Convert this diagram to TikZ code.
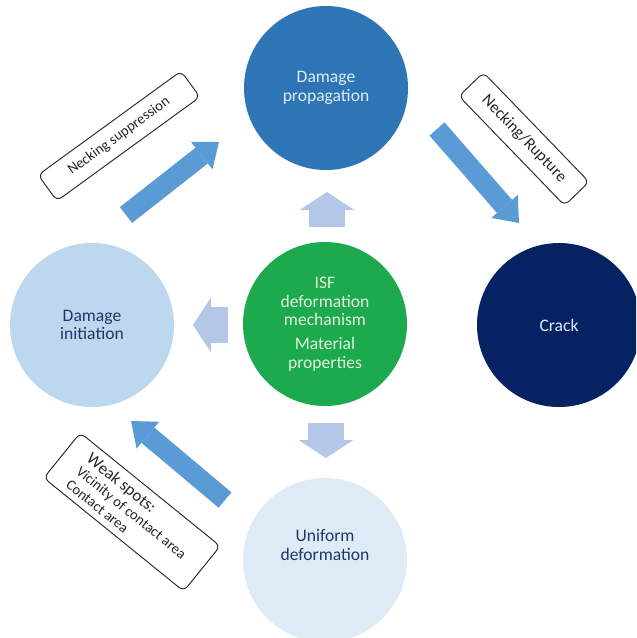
\documentclass[tikz,border=0pt]{standalone}
\usepackage{fontspec}
\setmainfont{Carlito}
\usetikzlibrary{arrows.meta}
\definecolor{ISFGreen}{HTML}{1DAA4F}
\definecolor{ISFGreenText}{HTML}{E2F0D9}
\definecolor{PropBlue}{HTML}{2E75B6}
\definecolor{CrackNavy}{HTML}{062262}
\definecolor{InitBlue}{HTML}{BDD7EE}
\definecolor{UnifBlue}{HTML}{DEEBF7}
\definecolor{DarkText}{HTML}{203864}
\definecolor{LightText}{HTML}{DEEBF7}
\definecolor{SmallArrow}{HTML}{B4C7E7}
\definecolor{BigArrow}{HTML}{5B9BD5}
\definecolor{TagText}{HTML}{262626}

\begin{document}
\begin{tikzpicture}[
      x=0.03cm,y=-0.03cm,
      stage/.style={circle,minimum size=4.92cm,inner sep=0pt,align=center,
        font=\fontsize{15}{16}\selectfont},
      stagetext/.style={align=center,inner sep=0pt,
        font=\fontsize{15}{16}\selectfont},
      tag/.style={draw=black!85,fill=white,rounded corners=5pt,line width=0.8pt,
        inner sep=0pt,text=TagText,align=center},
      smallarrow/.style={line width=1.08cm,color=SmallArrow,
        -{Triangle[length=0.54cm,width=1.65cm,line width=0pt]}},
      bigarrow/.style={line width=0.6cm,color=BigArrow,
        -{Triangle[length=0.66cm,width=1.05cm,line width=0pt]}}
    ]
      \clip (0,0) rectangle (636,638);

      % stages
      \node[stage,fill=ISFGreen,text=ISFGreenText] (isf) at (325,324)
        {ISF\\deformation\\mechanism\\[4pt]Material\\properties};
      \node[stage,fill=PropBlue,text=LightText] (prop) at (326,88)
        {Damage\\propagation};
      \node[stage,fill=CrackNavy,text=LightText] (crack) at (559,325) {Crack};
      \node[stage,fill=InitBlue,text=DarkText] (init) at (92,325)
        {Damage\\initiation};
      \node[stage,fill=UnifBlue] (unif) at (325,560) {};
      \node[stagetext,text=DarkText] (uniftext) at (325,545)
        {Uniform\\deformation};

      % small arrows out of the centre
      \coordinate (upbase) at (327,227);
      \coordinate (uptip) at (327,192);
      \coordinate (leftbase) at (228,325);
      \coordinate (lefttip) at (193,325);
      \coordinate (downbase) at (326,423);
      \coordinate (downtip) at (326,458);
      \draw[smallarrow] (upbase) -- (uptip);
      \draw[smallarrow] (leftbase) -- (lefttip);
      \draw[smallarrow] (downbase) -- (downtip);

      % big arrows between stages
      \coordinate (supptail) at (126,215);
      \coordinate (supptip) at (219,142);
      \coordinate (rupttail) at (437,129);
      \coordinate (rupttip) at (519,223);
      \coordinate (weaktail) at (225,500);
      \coordinate (weaktip) at (131,421);
      \draw[bigarrow] (supptail) -- (supptip);
      \draw[bigarrow] (rupttail) -- (rupttip);
      \draw[bigarrow] (weaktail) -- (weaktip);

      % labels
      \node[tag,rotate=36,minimum width=5.3cm,minimum height=0.96cm,
        font=\fontsize{12.5}{14}\selectfont] (supp) at (119,136)
        {Necking suppression};
      \node[tag,rotate=-46,minimum width=4.56cm,minimum height=1.02cm,
        font=\fontsize{14}{16}\selectfont] (rupt) at (524,139)
        {Necking/Rupture};
      \node[tag,rotate=-39,minimum width=5.4cm,minimum height=1.74cm,
        align=left,font=\fontsize{12.5}{14}\selectfont] (weak) at (132,512)
        {{\fontsize{14.5}{16}\selectfont Weak spots:}\\
         Vicinity of contact area\\Contact area};
    \end{tikzpicture}
\end{document}
